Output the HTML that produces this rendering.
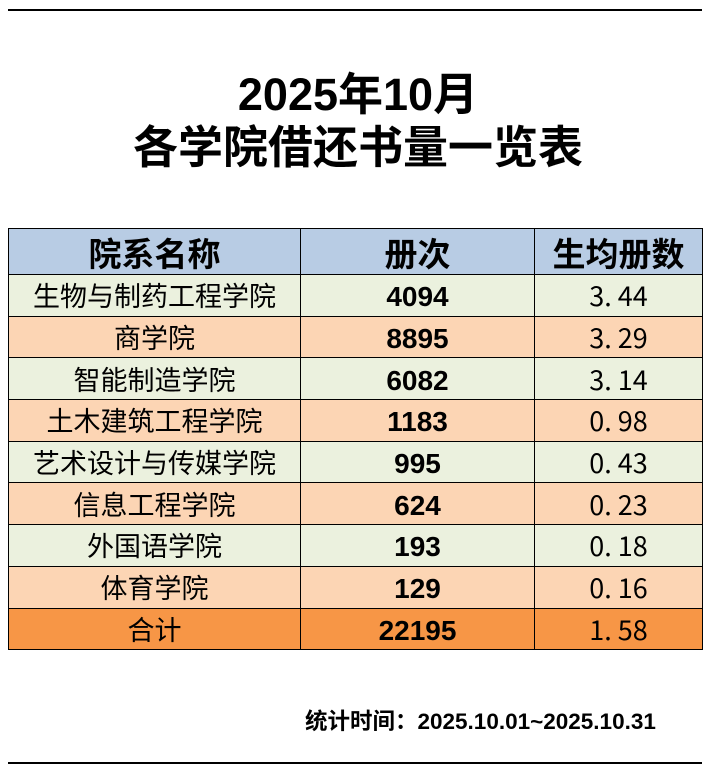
<!DOCTYPE html>
<html><head><meta charset="utf-8"><style>
body{margin:0;width:716px;height:768px;background:#fff;font-family:"Liberation Sans","Noto Sans CJK SC",sans-serif;position:relative;overflow:hidden}
.l{position:absolute;left:8px;width:694px;height:2px;background:#000}
.t{position:absolute;left:0;width:716px;text-align:center;font-weight:bold;font-size:45px;color:#000;line-height:50px}
table{position:absolute;left:8px;top:228px;border-collapse:collapse;width:695px;table-layout:fixed}
td{border:1.5px solid #000;text-align:center;font-size:27px;padding:0;line-height:30px;font-family:"Noto Sans CJK SC",sans-serif}
tr{height:41.7px}
tr.h{height:46px}
tr.h td{background:#b8cce4;font-weight:bold;font-size:33px}
tr.g td{background:#ebf1de}
tr.o td{background:#fcd5b4}
tr.s td{background:#f79646}
.n{font-weight:bold;font-family:"Liberation Sans",sans-serif;font-size:28px;padding-top:4px}
.f{position:absolute;left:305px;top:704px;font-size:22.5px;font-weight:bold}
</style></head><body>
<div class="l" style="top:9px"></div>
<div class="t" style="top:70px">2025年10月</div>
<div class="t" style="top:123px">各学院借还书量一览表</div>
<table>
<tr class="h"><td style="width:291px">院系名称</td><td style="width:233px">册次</td><td>生均册数</td></tr>
<tr class="g"><td>生物与制药工程学院</td><td class="n">4094</td><td>3. 44</td></tr>
<tr class="o"><td>商学院</td><td class="n">8895</td><td>3. 29</td></tr>
<tr class="g"><td>智能制造学院</td><td class="n">6082</td><td>3. 14</td></tr>
<tr class="o"><td>土木建筑工程学院</td><td class="n">1183</td><td>0. 98</td></tr>
<tr class="g"><td>艺术设计与传媒学院</td><td class="n">995</td><td>0. 43</td></tr>
<tr class="o"><td>信息工程学院</td><td class="n">624</td><td>0. 23</td></tr>
<tr class="g"><td>外国语学院</td><td class="n">193</td><td>0. 18</td></tr>
<tr class="o"><td>体育学院</td><td class="n">129</td><td>0. 16</td></tr>
<tr class="s"><td>合计</td><td class="n">22195</td><td>1. 58</td></tr>
</table>
<div class="f">统计时间：2025.10.01~2025.10.31</div>
<div class="l" style="top:762px"></div>
</body></html>
